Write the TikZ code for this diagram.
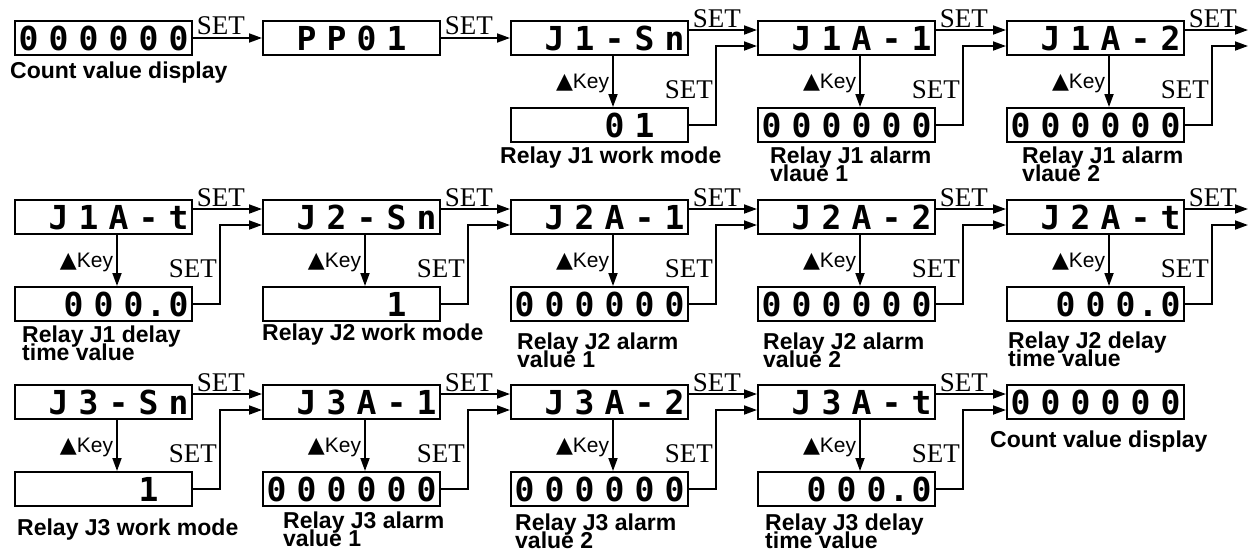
\documentclass[tikz,border=0pt]{standalone}
\usepackage{fontspec}
\setmainfont{Liberation Sans}
\newfontfamily\lcdfont{DejaVu Sans Mono}
\newfontfamily\seriffont{Liberation Serif}
\newfontfamily\symfont{DejaVu Sans}
\usetikzlibrary{arrows.meta,calc}
\makeatletter
\def\lcddot{.}
\newcommand\lcdcell[1]{\hbox to 30pt{\hss#1\hss}}
\newcommand\lcd[1]{\hbox to 177pt{\hss\@tfor\lcdc:=#1\do{\ifx\lcdc\lcddot\hbox to 15pt{\hss.\hss}\else\lcdcell{\lcdc}\fi}\kern-1.5pt}}
\makeatother
\newcommand\tightlines{\lineskiplimit=-50pt\relax\lineskip=0pt\relax}
\begin{document}
\begin{tikzpicture}[x=1pt,y=-1pt,
 disp/.style={draw,line width=2pt,minimum width=177pt,minimum height=34pt,inner sep=0pt,anchor=north west,text height=24pt,text depth=0pt,font=\lcdfont\bfseries\fontsize{33}{33}\selectfont},
 conn/.style={line width=1.8pt,-{Triangle[length=13pt,width=9pt]}},
 setlab/.style={font=\seriffont\fontsize{27}{27}\selectfont,inner sep=0pt},
 keylab/.style={inner sep=0pt,anchor=base east,font=\fontsize{21}{21}\selectfont},
 lab/.style={inner sep=0pt,anchor=base west,align=left,font=\bfseries\fontsize{23}{18}\selectfont\tightlines}]
\useasboundingbox (0,0) rectangle (1249,552);
% row 1
\node[disp] (m1) at (14,20) {\lcd{000000}};
\node[disp] (m2) at (262,20) {\lcd{~PP01~}};
\node[disp] (m3) at (510,20) {\lcd{~J1-Sn}};
\node[disp] (m4) at (757,20) {\lcd{~J1A-1}};
\node[disp] (m5) at (1006,20) {\lcd{~J1A-2}};
\node[disp] (s3) at (510,107) {\lcd{~~~01~}};
\node[disp] (s4) at (757,107) {\lcd{000000}};
\node[disp] (s5) at (1006,107) {\lcd{000000}};
\coordinate (e1) at (1248,20);
% row 2
\node[disp] (m6) at (14,199) {\lcd{~J1A-t}};
\node[disp] (m7) at (262,199) {\lcd{~J2-Sn}};
\node[disp] (m8) at (510,199) {\lcd{~J2A-1}};
\node[disp] (m9) at (757,199) {\lcd{~J2A-2}};
\node[disp] (m10) at (1006,199) {\lcd{~J2A-t}};
\node[disp] (s6) at (14,286) {\lcd{~000.0}};
\node[disp] (s7) at (262,286) {\lcd{~~~~1~}};
\node[disp] (s8) at (510,286) {\lcd{000000}};
\node[disp] (s9) at (757,286) {\lcd{000000}};
\node[disp] (s10) at (1006,286) {\lcd{~000.0}};
\coordinate (e2) at (1248,199);
% row 3
\node[disp] (m11) at (14,384) {\lcd{~J3-Sn}};
\node[disp] (m12) at (262,384) {\lcd{~J3A-1}};
\node[disp] (m13) at (510,384) {\lcd{~J3A-2}};
\node[disp] (m14) at (757,384) {\lcd{~J3A-t}};
\node[disp] (m15) at (1006,384) {\lcd{000000}};
\node[disp] (s11) at (14,471) {\lcd{~~~~1~}};
\node[disp] (s12) at (262,471) {\lcd{000000}};
\node[disp] (s13) at (510,471) {\lcd{000000}};
\node[disp] (s14) at (757,471) {\lcd{~000.0}};
% plain SET arrows
\draw[conn] (m1.east) -- (m2.west) node[setlab,pos=0,anchor=base west,xshift=3pt,yshift=4pt] (t1) {SET};
\draw[conn] (m2.east) -- (m3.west) node[setlab,pos=0,anchor=base west,xshift=3pt,yshift=4pt] (t2) {SET};
% stages with key
\foreach \a/\s/\b in {m3/s3/m4, m4/s4/m5, m5/s5/e1, m6/s6/m7, m7/s7/m8, m8/s8/m9, m9/s9/m10, m10/s10/e2, m11/s11/m12, m12/s12/m13, m13/s13/m14, m14/s14/m15}{
  \draw[conn] ($(\a.north east)+(0,10)$) -- ($(\b.north west)+(0,10)$) node[setlab,pos=0,anchor=base west,xshift=3pt,yshift=2.5pt] (ts\a) {SET};
  \draw[conn] ($(\a.south west)+(103,0)$) -- ($(\s.north west)+(103,0)$) node[keylab,pos=0.5,xshift=-3pt,yshift=-6.5pt] (k\a) {{\symfont\fontsize{22}{22}\selectfont ▲}Key};
  \draw[conn] (\s.east) -- ++(27,0) |- ($(\b.north west)+(0,26)$);
  \node[setlab,anchor=base east] (ls\s) at ($(\s.north east)+(24,-9)$) {SET};
}
% labels (anchor at the baseline of the last line)
\node[lab] (l1) at (10,78) {Count value display};
\node[lab] (l3) at (500,163) {Relay J1 work mode};
\node[lab] (l4) at (770,181) {Relay J1 alarm\\vlaue 1};
\node[lab] (l5) at (1022,181) {Relay J1 alarm\\vlaue 2};
\node[lab] (l6) at (22,360) {Relay J1 delay\\time value};
\node[lab] (l7) at (262,340) {Relay J2 work mode};
\node[lab] (l8) at (517,367) {Relay J2 alarm\\value 1};
\node[lab] (l9) at (763,367) {Relay J2 alarm\\value 2};
\node[lab] (l10) at (1008,366) {Relay J2 delay\\time value};
\node[lab] (l11) at (17,535) {Relay J3 work mode};
\node[lab] (l12) at (283,546) {Relay J3 alarm\\value 1};
\node[lab] (l13) at (515,548) {Relay J3 alarm\\value 2};
\node[lab] (l14) at (765,548) {Relay J3 delay\\time value};
\node[lab] (l15) at (990,447) {Count value display};
\end{tikzpicture}
\end{document}
